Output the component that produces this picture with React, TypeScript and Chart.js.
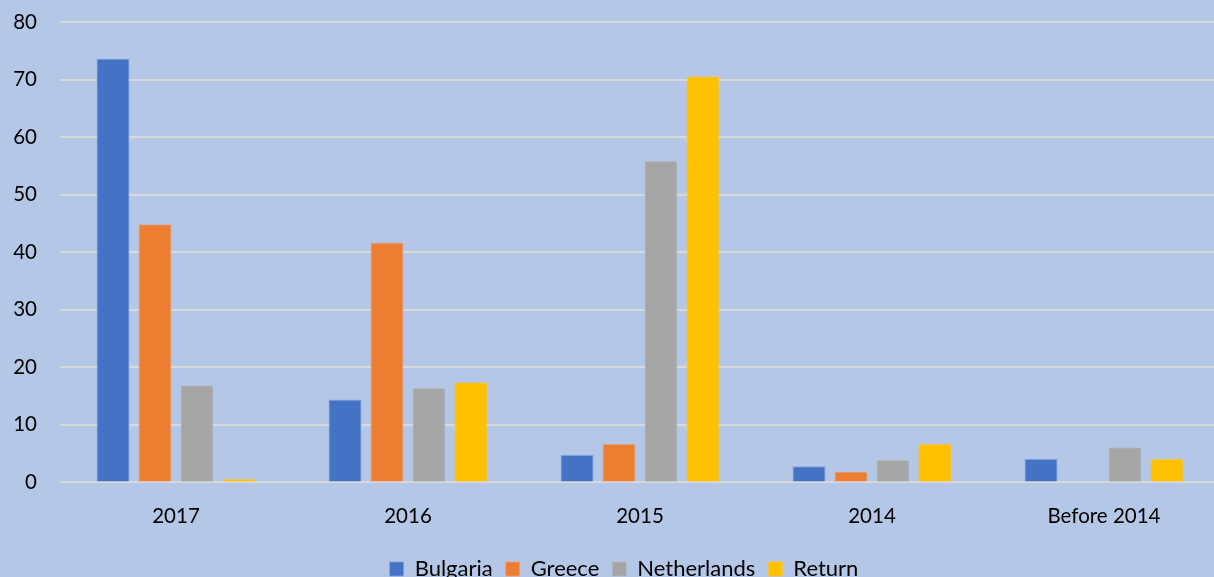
import React, { useEffect, useRef } from "react";
import { Chart, registerables } from "chart.js";

Chart.register(...registerables);

const categories = ["2017", "2016", "2015", "2014", "Before 2014"];
const bulgaria = [73.7, 14.4, 4.8, 2.8, 4.1];
const greece = [44.9, 41.7, 6.7, 1.9, null];
const netherlands = [16.9, 16.4, 55.9, 3.9, 6.1];
const returnVals = [0.6, 17.4, 70.6, 6.7, 4.1];
const yTicks = [0, 10, 20, 30, 40, 50, 60, 70, 80];

const FONT = "Lato, 'Open Sans', sans-serif";

export default function App() {
  const ref = useRef<HTMLCanvasElement | null>(null);

  useEffect(() => {
    document.body.style.margin = "0";
    document.body.style.overflow = "hidden";
    const ctx = ref.current!;
    const chart = new Chart(ctx, {
      type: "bar",
      data: {
        labels: categories,
        datasets: [
          { label: "Bulgaria", data: bulgaria, backgroundColor: "#4472c4", borderColor: "rgba(130,160,220,0.8)", borderWidth: 1 },
          { label: "Greece", data: greece, backgroundColor: "#ed7d31", borderColor: "rgba(240,160,110,0.8)", borderWidth: 1 },
          { label: "Netherlands", data: netherlands, backgroundColor: "#a5a5a5", borderColor: "rgba(180,185,195,0.8)", borderWidth: 1 },
          { label: "Return", data: returnVals, backgroundColor: "#ffc000", borderColor: "rgba(250,200,60,0.8)", borderWidth: 1 },
        ] as any,
      },
      options: {
        responsive: false,
        animation: false,
        maintainAspectRatio: false,
        datasets: { bar: { categoryPercentage: 0.724, barPercentage: 0.79 } },
        layout: { padding: { top: 0, right: 0, left: 0, bottom: 0 } },
        scales: {
          x: {
            grid: { display: false, drawTicks: false },
            border: { display: false },
            ticks: { color: "#000", font: { family: FONT, size: 20.5 }, padding: 22 },
          },
          y: {
            min: 0,
            max: 80,
            afterBuildTicks: (axis: any) => {
              axis.ticks = yTicks.map((v) => ({ value: v }));
            },
            afterFit: (axis: any) => {
              axis.width = 60;
            },
            grid: { color: "#d9d9d9", lineWidth: 2, drawTicks: false },
            border: { display: false },
            ticks: { color: "#000", font: { family: FONT, size: 20.5 }, padding: 23 },
          },
        },
        plugins: {
          legend: {
            position: "bottom",
            labels: {
              color: "#000",
              font: { family: FONT, size: 22 },
              boxWidth: 14,
              boxHeight: 14,
              padding: 13,
            },
          },
          tooltip: { enabled: false },
        },
      },
      plugins: [
        {
          id: "bg",
          beforeDraw: (c: any) => {
            const g = c.ctx;
            g.save();
            g.fillStyle = "#b4c7e7";
            g.fillRect(0, 0, c.width, c.height);
            g.restore();
          },
        },
        {
          id: "legendShift",
          afterLayout: (c: any) => {
            if (c.legend) {
              c.legend.left += 14;
              c.legend.right += 14;
              c.legend.top -= 6;
              c.legend.bottom -= 6;
            }
          },
        },
      ],
    });
    return () => chart.destroy();
  }, []);

  return (
    <div style={{ width: 1214, height: 577, overflow: "hidden", background: "#b4c7e7" }}>
      <canvas ref={ref} width={1220} height={609} style={{ display: "block", marginTop: -13 }} />
    </div>
  );
}
